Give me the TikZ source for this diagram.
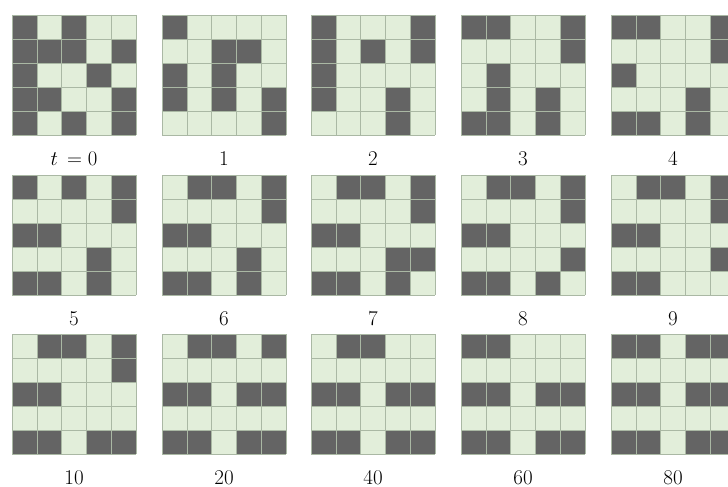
\documentclass[tikz,border=0pt]{standalone}
\usetikzlibrary{calc}
\definecolor{dk}{HTML}{646464}
\definecolor{lt}{HTML}{E2EEDA}
\definecolor{gl}{HTML}{AAB8A4}
\tikzset{
  darkcell/.style={fill=dk},
  lightcell/.style={fill=lt},
  gridline/.style={draw=gl, line width=0.5pt},
  steplabel/.style={anchor=base, inner sep=0pt, font=\fontsize{21}{25}\selectfont},
}
% #1 x, #2 y, #3 pattern, #4 label, #5 name
\newcommand\lifegrid[5]{%
  \begin{scope}[shift={(#1,#2)}]
    \foreach \k [count=\n from 0] in {#3} {
      \pgfmathtruncatemacro\cx{mod(\n,5)}
      \pgfmathtruncatemacro\cy{div(\n,5)}
      \ifnum\k=1
        \fill[darkcell] (\cx*24.8,\cy*24) rectangle ++(24.8,24);
      \else
        \fill[lightcell] (\cx*24.8,\cy*24) rectangle ++(24.8,24);
      \fi
    }
    \foreach \i in {0,...,5} {
      \draw[gridline] (\i*24.8,0) -- (\i*24.8,120);
      \draw[gridline] (0,\i*24) -- (124,\i*24);
    }
    \node[steplabel] (#5) at (62,150) {#4};
  \end{scope}}
\begin{document}
\begin{tikzpicture}[x=1pt,y=-1pt]
\useasboundingbox (0,0) rectangle (728,487);
\clip (0,0) rectangle (728,487);
\fill[white] (0,0) rectangle (728,487);
% row 1
\lifegrid{12}{15}{1,0,1,0,0, 1,1,1,0,1, 1,0,0,1,0, 1,1,0,0,1, 1,0,1,0,1}{$t\,=0$}{l0}
\lifegrid{162}{15}{1,0,0,0,0, 0,0,1,1,0, 1,0,1,0,0, 1,0,1,0,1, 0,0,0,0,1}{1}{l1}
\lifegrid{311}{15}{1,0,0,0,1, 1,0,1,0,1, 1,0,0,0,0, 1,0,0,1,0, 0,0,0,1,0}{2}{l2}
\lifegrid{461}{15}{1,1,0,0,1, 0,0,0,0,1, 0,1,0,0,0, 0,1,0,1,0, 1,1,0,1,0}{3}{l3}
\lifegrid{611}{15}{1,1,0,0,1, 0,0,0,0,1, 1,0,0,0,0, 0,0,0,1,0, 1,1,0,1,0}{4}{l4}
% row 2
\lifegrid{12}{175}{1,0,1,0,1, 0,0,0,0,1, 1,1,0,0,0, 0,0,0,1,0, 1,1,0,1,0}{5}{l5}
\lifegrid{162}{175}{0,1,1,0,1, 0,0,0,0,1, 1,1,0,0,0, 0,0,0,1,0, 1,1,0,1,0}{6}{l6}
\lifegrid{311}{175}{0,1,1,0,1, 0,0,0,0,1, 1,1,0,0,0, 0,0,0,1,1, 1,1,0,1,0}{7}{l7}
\lifegrid{461}{175}{0,1,1,0,1, 0,0,0,0,1, 1,1,0,0,0, 0,0,0,0,1, 1,1,0,1,0}{8}{l8}
\lifegrid{611}{175}{0,1,1,0,1, 0,0,0,0,1, 1,1,0,0,0, 0,0,0,0,1, 1,1,0,0,0}{9}{l9}
% row 3
\lifegrid{12}{334}{0,1,1,0,1, 0,0,0,0,1, 1,1,0,0,0, 0,0,0,0,0, 1,1,0,1,1}{10}{l10}
\lifegrid{162}{334}{0,1,1,0,1, 0,0,0,0,0, 1,1,0,1,1, 0,0,0,0,0, 1,1,0,1,1}{20}{l20}
\lifegrid{311}{334}{0,1,1,0,0, 0,0,0,0,0, 1,1,0,1,1, 0,0,0,0,0, 1,1,0,1,1}{40}{l40}
\lifegrid{461}{334}{1,1,0,0,0, 0,0,0,0,0, 1,1,0,1,1, 0,0,0,0,0, 1,1,0,1,1}{60}{l60}
\lifegrid{611}{334}{1,1,0,1,1, 0,0,0,0,0, 1,1,0,1,1, 0,0,0,0,0, 1,1,0,1,1}{80}{l80}
\end{tikzpicture}
\end{document}
